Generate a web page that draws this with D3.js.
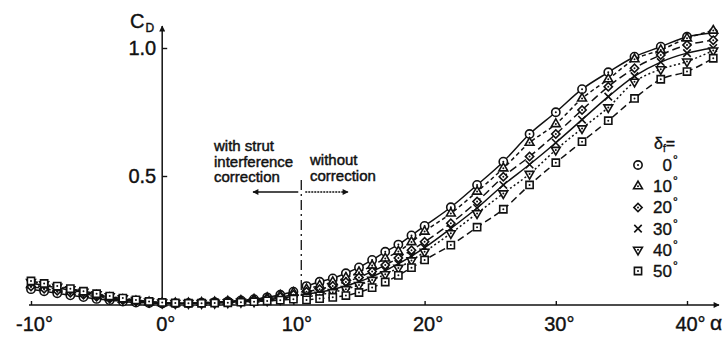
<!DOCTYPE html>
<html>
<head>
<meta charset="utf-8">
<script src="https://cdn.jsdelivr.net/npm/d3@7"></script>
<style>
  body { margin: 0; background: #fff; }
  svg text { font-family: "Liberation Sans", Arial, sans-serif; fill: #111; }
</style>
</head>
<body>
<script>
// angle of attack, with strut interference correction
var alphaWith = [-10,-9,-8,-7,-6,-5,-4,-3,-2,-1,0,1,2,3,4,5,6,7,8,9,10];
// angle of attack, without correction
var alphaWithout = [11,12,13,14,15,16,17,18,19,20,22,24,26,28,30,32,34,36,38,40,42];

var flapLabels = ["0°", "10°", "20°", "30°", "40°", "50°"];
var xTicks = [-10, 0, 10, 20, 30, 40];
var yTicks = [0.5, 1.0];
var splitAlpha = 10.6;

// C_D values per flap angle, with correction
var cdWith0  = [0.058,0.050,0.042,0.034,0.027,0.020,0.015,0.010,0.006,0.004,0.002,0.002,0.003,0.005,0.007,0.010,0.014,0.019,0.026,0.036,0.048];
var cdWith10 = [0.075,0.066,0.057,0.048,0.040,0.032,0.024,0.017,0.011,0.007,0.004,0.003,0.003,0.005,0.007,0.010,0.013,0.018,0.024,0.033,0.044];
var cdWith20 = [0.068,0.060,0.052,0.044,0.036,0.028,0.021,0.015,0.010,0.006,0.003,0.003,0.003,0.004,0.006,0.008,0.011,0.015,0.020,0.027,0.036];
var cdWith30 = [0.082,0.072,0.063,0.054,0.045,0.036,0.028,0.020,0.013,0.008,0.005,0.003,0.003,0.004,0.005,0.007,0.009,0.012,0.016,0.022,0.029];
var cdWith40 = [0.086,0.077,0.067,0.057,0.047,0.038,0.030,0.022,0.015,0.009,0.005,0.003,0.003,0.003,0.004,0.006,0.008,0.010,0.014,0.018,0.024];
var cdWith50 = [0.090,0.080,0.070,0.060,0.050,0.040,0.031,0.023,0.016,0.010,0.006,0.004,0.003,0.003,0.004,0.005,0.007,0.009,0.012,0.015,0.019];

// C_D values per flap angle, without correction
var cdWithout0  = [0.070,0.087,0.100,0.120,0.143,0.172,0.204,0.232,0.268,0.305,0.378,0.465,0.556,0.664,0.749,0.839,0.905,0.966,1.005,1.044,1.060];
var cdWithout10 = [0.058,0.072,0.086,0.103,0.124,0.150,0.178,0.205,0.242,0.283,0.354,0.439,0.530,0.630,0.703,0.803,0.878,0.956,0.992,1.038,1.068];
var cdWithout20 = [0.048,0.058,0.070,0.086,0.104,0.127,0.152,0.180,0.210,0.243,0.315,0.400,0.497,0.576,0.664,0.758,0.849,0.921,0.973,1.012,1.030];
var cdWithout30 = [0.038,0.047,0.057,0.071,0.087,0.107,0.131,0.157,0.187,0.220,0.295,0.375,0.465,0.545,0.630,0.720,0.810,0.890,0.945,0.980,1.000];
var cdWithout40 = [0.028,0.036,0.046,0.058,0.074,0.094,0.116,0.141,0.170,0.204,0.276,0.354,0.432,0.508,0.602,0.686,0.768,0.868,0.917,0.947,0.990];
var cdWithout50 = [0.016,0.021,0.026,0.033,0.045,0.064,0.086,0.112,0.142,0.172,0.230,0.300,0.370,0.465,0.552,0.634,0.716,0.803,0.878,0.908,0.960];

window.onload = drawChart();

function drawChart(){

    var width = 724,
        height = 337;

    var svg = d3.select("body")
        .append("svg")
        .attr("width", width)
        .attr("height", height);

    //arrow heads
    var defs = svg.append("defs");
    defs.append("marker")
        .attr("id", "arrow")
        .attr("viewBox", "0 0 10 10")
        .attr("refX", 9).attr("refY", 5)
        .attr("markerWidth", 9).attr("markerHeight", 6)
        .attr("markerUnits", "userSpaceOnUse")
        .attr("orient", "auto")
        .append("path")
        .attr("d", "M0,0L10,5L0,10Z")
        .attr("fill", "#111");

    //scales
    var x = d3.scaleLinear().domain([-10, 40]).range([31, 687]);
    var y = d3.scaleLinear().domain([0, 1]).range([304, 48]);

    //series table built from the arrays
    var withSets = [cdWith0, cdWith10, cdWith20, cdWith30, cdWith40, cdWith50];
    var withoutSets = [cdWithout0, cdWithout10, cdWithout20, cdWithout30, cdWithout40, cdWithout50];
    var symbols = [d3.symbolCircle, d3.symbolTriangle, d3.symbolSquare, d3.symbolX, d3.symbolTriangle, d3.symbolSquare];
    var symSizes = [54, 34, 34, 38, 34, 52];
    var rotations = [0, 0, 45, 0, 180, 0];
    var dashes = [null, "4,3", "8,4", null, "2,2.5", "7,4"];

    var series = flapLabels.map(function(lab, i){
        return {
            label: lab,
            symbol: symbols[i],
            size: symSizes[i],
            rot: rotations[i],
            dash: dashes[i],
            withPts: alphaWith.map(function(a, j){ return [a, withSets[i][j]]; }),
            withoutPts: alphaWithout.map(function(a, j){ return [a, withoutSets[i][j]]; })
        };
    });

    //x axis
    var xAxis = d3.axisBottom(x)
        .tickValues(xTicks)
        .tickSize(-4)
        .tickSizeOuter(0)
        .tickPadding(12)
        .tickFormat(function(d){ return d + "°"; });

    var gx = svg.append("g")
        .attr("transform", "translate(0,305)")
        .call(xAxis);
    gx.select(".domain").remove();
    gx.selectAll(".tick line").attr("stroke", "#111").attr("stroke-width", 1.4);
    gx.selectAll(".tick text")
        .attr("font-size", 20)
        .attr("fill", "#111")
        .attr("stroke", "#111").attr("stroke-width", 0.4)
        .attr("dx", 3);

    svg.append("line")
        .attr("x1", x(-10) - 2).attr("x2", 719)
        .attr("y1", 305).attr("y2", 305)
        .attr("stroke", "#111").attr("stroke-width", 1.5)
        .attr("marker-end", "url(#arrow)");

    svg.append("text")
        .attr("x", 710).attr("y", 330)
        .attr("font-size", 21)
        .attr("stroke", "#111").attr("stroke-width", 0.4)
        .text("α");

    //y axis
    var yAxis = d3.axisLeft(y)
        .tickValues(yTicks)
        .tickSize(-5)
        .tickSizeOuter(0)
        .tickPadding(6)
        .tickFormat(d3.format(".1f"));

    var gy = svg.append("g")
        .attr("transform", "translate(" + x(0) + ",0)")
        .call(yAxis);
    gy.select(".domain").remove();
    gy.selectAll(".tick line").attr("stroke", "#111").attr("stroke-width", 1.4);
    gy.selectAll(".tick text")
        .attr("font-size", 20)
        .attr("fill", "#111")
        .attr("stroke", "#111").attr("stroke-width", 0.4);

    svg.append("line")
        .attr("x1", x(0)).attr("x2", x(0))
        .attr("y1", 305).attr("y2", 26)
        .attr("stroke", "#111").attr("stroke-width", 1.5)
        .attr("marker-end", "url(#arrow)");

    var cd = svg.append("text")
        .attr("x", 130).attr("y", 28)
        .attr("font-size", 20)
        .attr("stroke", "#111").attr("stroke-width", 0.4);
    cd.append("tspan").text("C");
    cd.append("tspan").attr("font-size", 12).attr("dy", 4).attr("dx", 1).text("D");

    //correction divider and notes
    svg.append("line")
        .attr("x1", x(splitAlpha)).attr("x2", x(splitAlpha))
        .attr("y1", 180).attr("y2", 300)
        .attr("stroke", "#111").attr("stroke-width", 1.3)
        .attr("stroke-dasharray", "10,4,2,4");

    svg.append("line")
        .attr("x1", x(splitAlpha) - 3).attr("x2", 253)
        .attr("y1", 192).attr("y2", 192)
        .attr("stroke", "#111").attr("stroke-width", 1.4)
        .attr("marker-end", "url(#arrow)");

    svg.append("line")
        .attr("x1", x(splitAlpha) + 4).attr("x2", 348)
        .attr("y1", 192).attr("y2", 192)
        .attr("stroke", "#111").attr("stroke-width", 1.4)
        .attr("stroke-dasharray", "2,1")
        .attr("marker-end", "url(#arrow)");

    var noteLeft = ["with  strut", "interference", "correction"];
    svg.selectAll(".noteLeft")
        .data(noteLeft)
        .enter()
        .append("text")
        .attr("class", "noteLeft")
        .attr("x", 214)
        .attr("y", function(d, i){ return 151 + i * 15.5; })
        .attr("font-size", 15)
        .attr("stroke", "#111").attr("stroke-width", 0.45)
        .text(function(d){ return d; });

    var noteRight = ["without", "correction"];
    svg.selectAll(".noteRight")
        .data(noteRight)
        .enter()
        .append("text")
        .attr("class", "noteRight")
        .attr("x", 310)
        .attr("y", function(d, i){ return 165 + i * 15.5; })
        .attr("font-size", 15)
        .attr("stroke", "#111").attr("stroke-width", 0.45)
        .text(function(d){ return d; });

    //curves
    var line = d3.line()
        .x(function(d){ return x(d[0]); })
        .y(function(d){ return y(d[1]); })
        .curve(d3.curveMonotoneX);

    var groups = svg.selectAll(".series")
        .data(series)
        .enter()
        .append("g")
        .attr("class", "series");

    groups.each(function(s){
        var g = d3.select(this);
        [s.withPts, s.withoutPts].forEach(function(pts){
            g.append("path")
                .datum(pts)
                .attr("d", line)
                .attr("fill", "none")
                .attr("stroke", "#111")
                .attr("stroke-width", 1.5)
                .attr("stroke-dasharray", s.dash);
        });
    });

    function drawSymbol(sel, s){
        sel.append("path")
            .attr("d", d3.symbol().type(s.symbol).size(s.size))
            .attr("transform", s.rot ? "rotate(" + s.rot + ")" : null)
            .attr("fill", "#fff")
            .attr("stroke", "#111")
            .attr("stroke-width", 1.6);
        if (s.symbol !== d3.symbolX) {
            sel.append("circle").attr("r", 1).attr("fill", "#111");
        }
    }

    groups.each(function(s){
        var g = d3.select(this);
        g.selectAll(".pt")
            .data(s.withPts.concat(s.withoutPts))
            .enter()
            .append("g")
            .attr("class", "pt")
            .attr("transform", function(d){ return "translate(" + x(d[0]) + "," + y(d[1]) + ")"; })
            .each(function(){ drawSymbol(d3.select(this), s); });
    });

    //legend
    var legend = svg.append("g").attr("transform", "translate(638,0)");

    var lt = legend.append("text")
        .attr("x", 16).attr("y", 149)
        .attr("font-size", 16)
        .attr("stroke", "#111").attr("stroke-width", 0.35);
    lt.append("tspan").text("δ");
    lt.append("tspan").attr("font-size", 10).attr("dy", 3).text("f");
    lt.append("tspan").attr("dy", -3).text("=");

    var rows = legend.selectAll(".row")
        .data(series)
        .enter()
        .append("g")
        .attr("class", "row")
        .attr("transform", function(d, i){ return "translate(0," + (165 + i * 21.2) + ")"; });

    rows.each(function(s){
        var g = d3.select(this).append("g");
        drawSymbol(g, s);
    });

    rows.append("text")
        .attr("x", 34)
        .attr("y", 6)
        .attr("text-anchor", "end")
        .attr("font-size", 17)
        .attr("stroke", "#111").attr("stroke-width", 0.35)
        .text(function(d){ return d.label.replace("°", ""); });

    rows.append("text")
        .attr("x", 35)
        .attr("y", -1)
        .attr("font-size", 12)
        .attr("stroke", "#111").attr("stroke-width", 0.35)
        .text("°");
}
</script>
</body>
</html>
